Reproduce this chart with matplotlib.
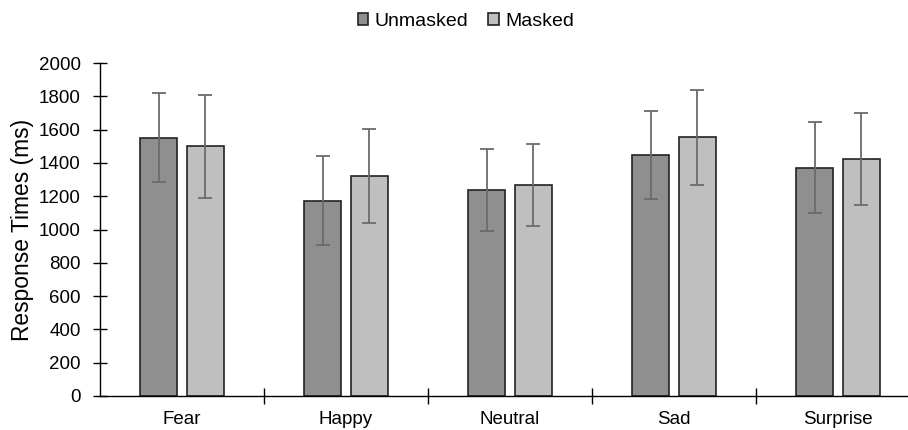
import numpy as np
import matplotlib
matplotlib.use("Agg")
import matplotlib.pyplot as plt

plt.rcParams["font.family"] = ["Liberation Sans", "DejaVu Sans"]

categories = ["Fear", "Happy", "Neutral", "Sad", "Surprise"]
unmasked = [1551, 1173, 1237, 1449, 1371]
unmasked_err = [267, 267, 245, 265, 272]
masked = [1499, 1323, 1265, 1553, 1423]
masked_err = [310, 283, 246, 286, 277]

W, H = 908, 430
fig = plt.figure(figsize=(W / 100, H / 100), dpi=100)
# axes spans pixels x 100..920 (right end clipped), y 63..396
ax = fig.add_axes([100 / W, 1 - 396 / H, 820 / W, 333 / H])

x = np.arange(len(categories))
bw = 0.226
off = 0.141
err_kw = dict(ecolor="#6b6b6b", elinewidth=1.3, capsize=5, capthick=1.3)
ax.bar(x - off, unmasked, bw, color="#8f8f8f", edgecolor="#222222", linewidth=1.2,
       yerr=unmasked_err, error_kw=err_kw, label="Unmasked")
ax.bar(x + off, masked, bw, color="#bfbfbf", edgecolor="#222222", linewidth=1.2,
       yerr=masked_err, error_kw=err_kw, label="Masked")

ax.set_xlim(-0.5, len(categories) - 0.5)
ax.set_ylim(0, 2000)
ax.set_yticks(np.arange(0, 2001, 200))
ax.tick_params(axis="y", labelsize=13.5, direction="inout", length=10, width=1, pad=9)
ax.set_xticks(x)
ax.set_xticklabels(categories, fontsize=13.5)
ax.tick_params(axis="x", length=0, pad=11)
ax.set_xticks(np.arange(0.5, len(categories) - 0.5, 1), minor=True)
ax.tick_params(axis="x", which="minor", direction="inout", length=11, width=1)
ax.set_ylabel("Response Times (ms)", fontsize=16.4, labelpad=3)

for s in ["top", "right"]:
    ax.spines[s].set_visible(False)
ax.spines["left"].set_linewidth(1)
ax.spines["bottom"].set_linewidth(1)

fig.legend(loc="upper center", bbox_to_anchor=(0.513, 1.01), ncol=2, frameon=False,
           fontsize=14, handlelength=0.55, handleheight=0.55, handletextpad=0.3,
           columnspacing=1.05)

fig.savefig("out.png", dpi=100)
